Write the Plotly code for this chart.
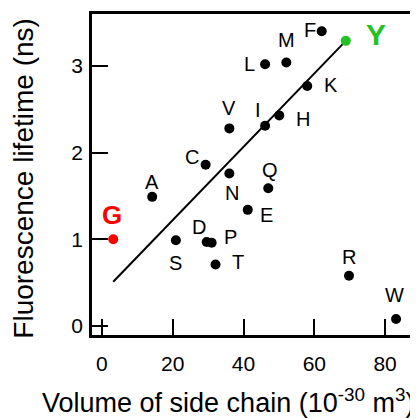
import plotly.graph_objects as go

# Data: amino acid side-chain volume vs fluorescence lifetime
labels = ["G", "A", "S", "C", "D", "P", "T", "N", "V", "E", "Q", "I", "L", "H", "M", "K", "F", "Y", "R", "W"]
volume = [3.2, 14.2, 20.9, 29.3, 29.6, 31.0, 32.1, 36.0, 36.0, 41.2, 47.0, 46.1, 46.1, 50.1, 52.1, 58.0, 62.1, 68.9, 69.8, 83.1]
lifetime = [1.00, 1.49, 0.99, 1.86, 0.97, 0.96, 0.71, 1.76, 2.28, 1.34, 1.59, 2.31, 3.02, 2.43, 3.04, 2.77, 3.40, 3.29, 0.58, 0.08]
colors = ["red"] + ["black"] * 16 + ["#22c222"] + ["black"] * 2

# label offsets in pixels (dx right, dy up)
label_dx = [-1, 0, 0, -14, -8, 19, 22, 3, 0, 19, 2, -7, -16, 24, 0, 24, -12, 30, 0, -2]
label_dy = [24, 15, -23, 8, 15, 6, 2, -20, 20, -5, 18, 16, 0, -4, 23, 1, 1, 6, 19, 24]

fit_x = [3.2, 68.9]
fit_y = [0.51, 3.29]

x_ticks = [0, 20, 40, 60, 80]
y_ticks = [0, 1, 2, 3]

FONT = "Liberation Sans, Arial, Helvetica, sans-serif"

fig = go.Figure()
fig.add_trace(go.Scatter(x=fit_x, y=fit_y, mode="lines",
                         line=dict(color="black", width=2), hoverinfo="skip"))
fig.add_trace(go.Scatter(x=volume, y=lifetime, mode="markers",
                         marker=dict(color=colors, size=10, line=dict(width=0))))

for lab, x, y, dx, dy, c in zip(labels, volume, lifetime, label_dx, label_dy, colors):
    if lab == "Y":
        f = dict(family=FONT, size=30, color=c, weight="bold")
    elif lab == "G":
        f = dict(family=FONT, size=26, color=c, weight="bold")
    else:
        f = dict(family=FONT, size=20, color="black")
    fig.add_annotation(x=x, y=y, xref="x", yref="y", text=lab, showarrow=False,
                       xshift=dx, yshift=dy, font=f, xanchor="center", yanchor="middle")

# page has an 8px body margin; figure is 410x410 so plot area lands where the reference has it
fig.add_annotation(x=0.4257, y=-0.206, xref="paper", yref="paper",
                   text="Volume of side chain (10<sup>-30</sup> m<sup>3</sup>)",
                   showarrow=False, xanchor="center", yanchor="middle",
                   font=dict(family=FONT, size=27, color="black"))
fig.add_annotation(x=-0.2167, y=0.489, xref="paper", yref="paper",
                   text="Fluorescence lifetime (ns)", textangle=-90,
                   showarrow=False, xanchor="center", yanchor="middle",
                   font=dict(family=FONT, size=28, color="black"))

axis_common = dict(showgrid=False, zeroline=False, showline=True, linecolor="black",
                   linewidth=2.5, mirror=True, ticks="inside", ticklen=16, tickwidth=2,
                   tickcolor="black", tickfont=dict(family=FONT, size=21, color="black"))
fig.update_xaxes(range=[-2.8, 87.6], tickvals=x_ticks, ticklabelstandoff=8, **axis_common)
fig.update_yaxes(range=[-0.104, 3.6], tickvals=y_ticks, ticklabelstandoff=2, **axis_common)

fig.update_layout(width=410, height=410, showlegend=False,
                  margin=dict(l=84, r=3, t=6, b=83),
                  plot_bgcolor="white", paper_bgcolor="white",
                  font=dict(family=FONT))
fig.write_html("out.html")
